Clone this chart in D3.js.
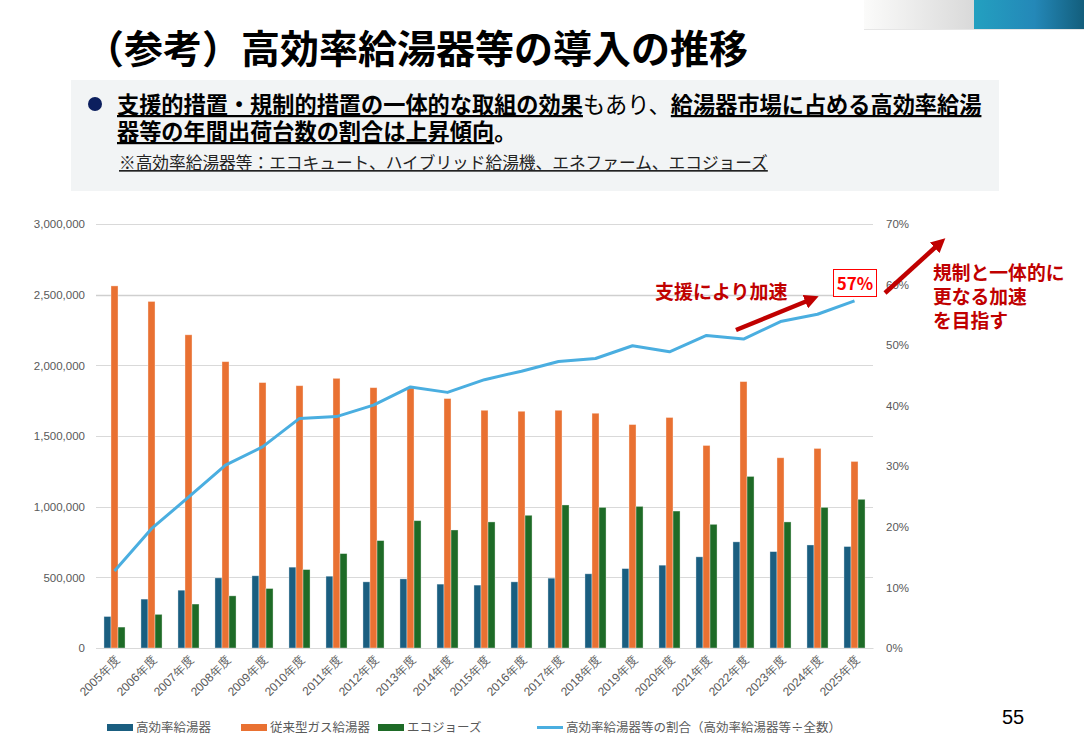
<!DOCTYPE html>
<html><head><meta charset="utf-8">
<script src="https://cdn.jsdelivr.net/npm/d3@7"></script>
<style>
html,body{margin:0;padding:0;background:#fff;}
svg{display:block;font-family:"Noto Sans CJK JP","Noto Sans",sans-serif;}
</style></head>
<body><svg id="c" width="1084" height="750"></svg>
<script>
const years = ["2005年度","2006年度","2007年度","2008年度","2009年度","2010年度","2011年度","2012年度","2013年度","2014年度","2015年度","2016年度","2017年度","2018年度","2019年度","2020年度","2021年度","2022年度","2023年度","2024年度","2025年度"];
const highEff = [223000,346000,409000,496000,511000,572000,508000,468000,489000,452000,445000,468000,494000,525000,562000,586000,645000,751000,682000,729000,718000];
const conventional = [2562000,2452000,2216000,2026000,1878000,1856000,1908000,1842000,1840000,1765000,1682000,1675000,1682000,1661000,1581000,1631000,1433000,1885000,1346000,1412000,1320000];
const ecoJoze = [148000,238000,311000,369000,421000,555000,668000,760000,901000,835000,892000,939000,1012000,995000,1002000,969000,875000,1214000,892000,995000,1052000];
const share = [0.127,0.197,0.249,0.302,0.332,0.379,0.382,0.401,0.431,0.422,0.443,0.457,0.473,0.478,0.499,0.489,0.516,0.510,0.539,0.551,0.573];
const leftTicks = [0,500000,1000000,1500000,2000000,2500000,3000000];
const rightTicks = [0,0.1,0.2,0.3,0.4,0.5,0.6,0.7];
const seriesNames = ["高効率給湯器","従来型ガス給湯器","エコジョーズ","高効率給湯器等の割合（高効率給湯器等÷全数）"];
const seriesColors = ["#1a5e80","#e97132","#1e6b27","#4aaee0"];

const svg = d3.select("#c");
const defs = svg.append("defs");
const g1 = defs.append("linearGradient").attr("id","gGrey");
g1.append("stop").attr("offset","0%").attr("stop-color","#fbfbfa");
g1.append("stop").attr("offset","100%").attr("stop-color","#d9d9d9");
const g2 = defs.append("linearGradient").attr("id","gBlue");
g2.append("stop").attr("offset","0%").attr("stop-color","#23a0c0");
g2.append("stop").attr("offset","55%").attr("stop-color","#2488b8");
g2.append("stop").attr("offset","100%").attr("stop-color","#135e7c");
svg.append("rect").attr("x",864).attr("y",0).attr("width",110).attr("height",29).attr("fill","url(#gGrey)");
svg.append("rect").attr("x",974).attr("y",0).attr("width",110).attr("height",29).attr("fill","url(#gBlue)");
svg.append("line").attr("x1",864).attr("x2",1084).attr("y1",29.5).attr("y2",29.5).attr("stroke","#e6e6e6");

// title
svg.append("text").attr("x",85).attr("y",63).attr("font-size",39).attr("font-weight",700).attr("fill","#000")
  .text("（参考）高効率給湯器等の導入の推移");

// info box
svg.append("rect").attr("x",71).attr("y",80).attr("width",928).attr("height",111).attr("fill","#f2f4f5");
svg.append("circle").attr("cx",95).attr("cy",104).attr("r",7).attr("fill","#0c1f5e");
const t1 = svg.append("text").attr("x",117).attr("y",113).attr("font-size",22.2).attr("fill","#000");
t1.append("tspan").attr("font-weight",700).style("text-decoration","underline").text("支援的措置・規制的措置の一体的な取組の効果");
t1.append("tspan").text("もあり、");
t1.append("tspan").attr("font-weight",700).style("text-decoration","underline").text("給湯器市場に占める高効率給湯");
const t2 = svg.append("text").attr("x",117).attr("y",140).attr("font-size",22.2).attr("fill","#000");
t2.append("tspan").attr("font-weight",700).style("text-decoration","underline").text("器等の年間出荷台数の割合は上昇傾向");
t2.append("tspan").attr("font-weight",700).text("。");
svg.append("text").attr("x",119).attr("y",169).attr("font-size",16.7).attr("fill","#222").style("text-decoration","underline")
  .text("※高効率給湯器等：エコキュート、ハイブリッド給湯機、エネファーム、エコジョーズ");

// chart
const L = 96, R = 873, T = 224, B = 648;
const x = d3.scaleBand().domain(years).range([L,R]).paddingInner(0.43).paddingOuter(0.215);
const xs = d3.scaleBand().domain([0,1,2]).range([0,x.bandwidth()]);
const y = d3.scaleLinear().domain([0,3000000]).range([B,T]);
const y2 = d3.scaleLinear().domain([0,0.7]).range([B,T]);

svg.append("g").selectAll("line").data(leftTicks).join("line")
  .attr("x1",L).attr("x2",R).attr("y1",d=>Math.round(y(d))+0.5).attr("y2",d=>Math.round(y(d))+0.5)
  .attr("stroke",d=>d===2500000?"#cfcfcf":"#d9d9d9").attr("stroke-width",d=>d===2500000?1.6:1);

const axL = d3.axisLeft(y).tickValues(leftTicks).tickSize(0).tickPadding(0).tickFormat(d3.format(","));
const gL = svg.append("g").attr("transform",`translate(${L-11},0)`).call(axL);
gL.select(".domain").remove();
gL.selectAll("text").attr("font-size",11.5).attr("fill","#595959").attr("font-family","Liberation Sans, Arial, sans-serif");

const axR = d3.axisRight(y2).tickValues(rightTicks).tickSize(0).tickPadding(0).tickFormat(d3.format(".0%"));
const gR = svg.append("g").attr("transform",`translate(${R+13},0)`).call(axR);
gR.select(".domain").remove();
gR.selectAll("text").attr("font-size",11.5).attr("fill","#595959").attr("font-family","Liberation Sans, Arial, sans-serif");

const series = [highEff, conventional, ecoJoze];
series.forEach((vals,si)=>{
  svg.append("g").selectAll("rect").data(vals).join("rect")
    .attr("x",(d,i)=>x(years[i])+xs(si))
    .attr("y",d=>y(d))
    .attr("width",xs.bandwidth())
    .attr("height",d=>B-y(d))
    .attr("fill",seriesColors[si])
    .attr("stroke","rgba(255,255,255,0.45)").attr("stroke-width",0.8);
});

const line = d3.line().x((d,i)=>x(years[i])+x.bandwidth()/2).y(d=>y2(d));
svg.append("path").datum(share).attr("d",line).attr("fill","none").attr("stroke",seriesColors[3]).attr("stroke-width",3).attr("stroke-linejoin","round");

// x axis labels
const axB = d3.axisBottom(x).tickSize(0).tickPadding(0);
const gB = svg.append("g").attr("transform",`translate(0,${B})`).call(axB);
gB.select(".domain").attr("stroke","#d9d9d9");
gB.selectAll("text").attr("font-size",12).attr("fill","#595959").attr("text-anchor","end")
  .attr("dy",0).attr("transform","translate(6,13) rotate(-45)");

// legend
const legX = [107,241,378,537];
const lg = svg.append("g");
seriesNames.forEach((n,i)=>{
  if(i<3) lg.append("rect").attr("x",legX[i]).attr("y",724).attr("width",26).attr("height",7).attr("fill",seriesColors[i]);
  else lg.append("line").attr("x1",legX[i]).attr("x2",legX[i]+26).attr("y1",727.5).attr("y2",727.5).attr("stroke",seriesColors[i]).attr("stroke-width",3);
  lg.append("text").attr("x",legX[i]+29).attr("y",732).attr("font-size",12.5).attr("fill","#595959").text(n);
});

// annotations
const red = "#c00000";
const mk = defs.append("marker").attr("id","ah").attr("viewBox","0 0 10 10").attr("refX",5).attr("refY",5)
  .attr("markerWidth",3.2).attr("markerHeight",3.2).attr("orient","auto");
mk.append("path").attr("d","M0,0 L10,5 L0,10 Z").attr("fill",red);
svg.append("line").attr("x1",736).attr("y1",330).attr("x2",812).attr("y2",299).attr("stroke",red).attr("stroke-width",4.5).attr("marker-end","url(#ah)");
svg.append("line").attr("x1",885).attr("y1",293).attr("x2",940).attr("y2",243).attr("stroke",red).attr("stroke-width",4.5).attr("marker-end","url(#ah)");
svg.append("text").attr("x",655).attr("y",299).attr("font-size",19).attr("font-weight",700).attr("fill",red).text("支援により加速");
svg.append("rect").attr("x",833.5).attr("y",269.5).attr("width",43).attr("height",27).attr("fill","#fff").attr("stroke","#ff0000").attr("stroke-width",1);
svg.append("text").attr("x",855).attr("y",290).attr("text-anchor","middle").attr("font-size",17).attr("font-weight",700).attr("fill","#ff0000").text(d3.format(".0%")(share[share.length-1]));
["規制と一体的に","更なる加速","を目指す"].forEach((s,i)=>{
  svg.append("text").attr("x",933).attr("y",280+i*24).attr("font-size",18.8).attr("font-weight",700).attr("fill",red).text(s);
});

// page number
svg.append("text").attr("x",1002).attr("y",724).attr("font-size",20).attr("fill","#000").attr("font-family","Liberation Sans, Arial, sans-serif").text("55");
</script></body></html>
